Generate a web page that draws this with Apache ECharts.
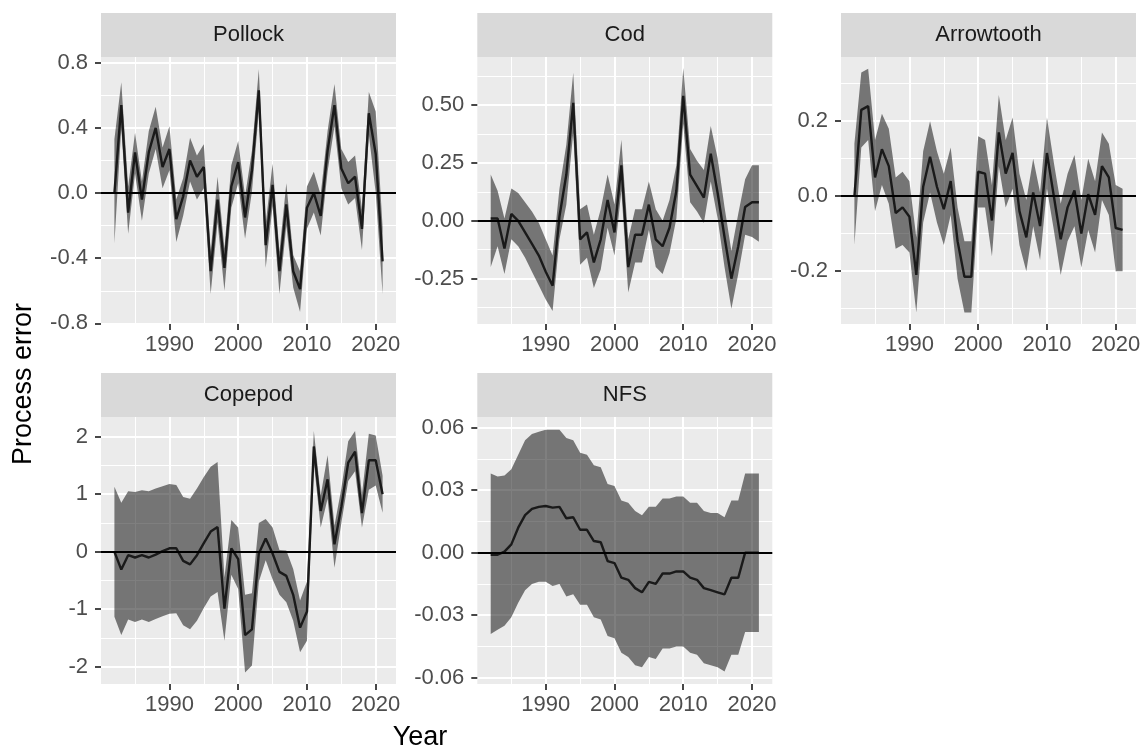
<!DOCTYPE html>
<html>
<head>
<meta charset="utf-8">
<script src="https://cdn.jsdelivr.net/npm/echarts@6/dist/echarts.min.js"></script>
<style>
  html, body { margin: 0; padding: 0; background: #ffffff; }
  #chart { width: 1145px; height: 751px; }
</style>
</head>
<body>
<div id="chart"></div>
<script>
// ---- data ---------------------------------------------------------------
const years = [1982, 1983, 1984, 1985, 1986, 1987, 1988, 1989, 1990, 1991,
               1992, 1993, 1994, 1995, 1996, 1997, 1998, 1999, 2000, 2001,
               2002, 2003, 2004, 2005, 2006, 2007, 2008, 2009, 2010, 2011,
               2012, 2013, 2014, 2015, 2016, 2017, 2018, 2019, 2020, 2021];

const panelNames = ['Pollock', 'Cod', 'Arrowtooth', 'Copepod', 'NFS'];

const pollockEst = [0.00, 0.54, -0.12, 0.25, -0.04, 0.25, 0.40, 0.16, 0.27, -0.16,
                    -0.02, 0.20, 0.10, 0.16, -0.48, -0.04, -0.46, 0.04, 0.19, -0.15,
                    0.14, 0.63, -0.32, 0.05, -0.48, -0.07, -0.48, -0.59, -0.09, 0.00,
                    -0.14, 0.26, 0.54, 0.15, 0.06, 0.10, -0.22, 0.49, 0.24, -0.42];
const pollockHi  = [0.33, 0.68, 0.04, 0.37, 0.07, 0.38, 0.53, 0.28, 0.41, -0.04,
                    0.09, 0.34, 0.23, 0.30, -0.36, 0.10, -0.34, 0.17, 0.32, -0.02,
                    0.26, 0.76, -0.19, 0.18, -0.36, 0.06, -0.38, -0.48, 0.04, 0.13,
                    -0.01, 0.38, 0.67, 0.27, 0.19, 0.23, -0.10, 0.62, 0.50, -0.21];
const pollockLo  = [-0.31, 0.40, -0.25, 0.12, -0.17, 0.12, 0.27, 0.03, 0.14, -0.30,
                    -0.14, 0.07, -0.04, 0.03, -0.62, -0.18, -0.60, -0.09, 0.06, -0.28,
                    0.01, 0.50, -0.46, -0.08, -0.62, -0.20, -0.58, -0.73, -0.22, -0.12,
                    -0.26, 0.13, 0.41, 0.03, -0.07, -0.03, -0.35, 0.36, 0.00, -0.62];

const codEst = [0.01, 0.01, -0.12, 0.03, 0.00, -0.05, -0.10, -0.15, -0.22, -0.28,
                0.02, 0.20, 0.51, -0.08, -0.05, -0.18, -0.08, 0.09, -0.05, 0.24,
                -0.20, -0.06, -0.06, 0.07, -0.08, -0.11, -0.03, 0.13, 0.54, 0.20,
                0.15, 0.10, 0.29, 0.12, -0.07, -0.25, -0.11, 0.06, 0.08, 0.08];
const codHi  = [0.20, 0.13, 0.01, 0.14, 0.12, 0.08, 0.04, -0.01, -0.08, -0.15,
                0.14, 0.33, 0.64, 0.05, 0.07, -0.06, 0.05, 0.20, 0.07, 0.35,
                -0.08, 0.05, 0.05, 0.17, 0.05, 0.00, 0.09, 0.24, 0.66, 0.31,
                0.26, 0.22, 0.41, 0.27, 0.06, -0.13, 0.03, 0.18, 0.24, 0.24];
const codLo  = [-0.20, -0.11, -0.23, -0.08, -0.11, -0.16, -0.22, -0.28, -0.34, -0.39,
                -0.08, 0.07, 0.38, -0.19, -0.16, -0.29, -0.21, -0.03, -0.15, 0.13,
                -0.31, -0.18, -0.18, -0.04, -0.20, -0.23, -0.14, 0.01, 0.42, 0.08,
                0.04, -0.01, 0.17, 0.01, -0.20, -0.38, -0.23, -0.06, -0.07, -0.09];

const arrowEst = [0.00, 0.23, 0.24, 0.05, 0.125, 0.08, -0.045, -0.03, -0.055, -0.21,
                  0.025, 0.105, 0.025, -0.035, 0.04, -0.12, -0.215, -0.215, 0.065, 0.06,
                  -0.065, 0.17, 0.06, 0.115, -0.04, -0.11, 0.01, -0.08, 0.115, 0.00,
                  -0.115, -0.03, 0.015, -0.10, 0.005, -0.05, 0.08, 0.05, -0.085, -0.09];
const arrowHi  = [0.14, 0.33, 0.34, 0.15, 0.22, 0.18, 0.05, 0.065, 0.04, -0.11,
                  0.12, 0.20, 0.12, 0.06, 0.13, -0.03, -0.12, -0.12, 0.16, 0.15,
                  0.03, 0.27, 0.15, 0.21, 0.06, -0.01, 0.10, 0.01, 0.21, 0.09,
                  -0.02, 0.06, 0.11, -0.01, 0.10, 0.04, 0.17, 0.14, 0.03, 0.02];
const arrowLo  = [-0.13, 0.13, 0.15, -0.04, 0.03, -0.02, -0.14, -0.13, -0.15, -0.31,
                  -0.07, 0.01, -0.07, -0.13, -0.05, -0.22, -0.31, -0.31, -0.03, -0.03,
                  -0.16, 0.08, -0.03, 0.02, -0.13, -0.20, -0.08, -0.17, 0.02, -0.09,
                  -0.21, -0.12, -0.08, -0.19, -0.09, -0.15, -0.01, -0.05, -0.20, -0.20];

const copepodEst = [0.00, -0.31, -0.06, -0.10, -0.06, -0.10, -0.05, 0.01, 0.06, 0.06,
                    -0.16, -0.22, -0.06, 0.15, 0.35, 0.43, -0.99, 0.06, -0.13, -1.45,
                    -1.35, -0.03, 0.23, -0.03, -0.35, -0.42, -0.75, -1.32, -1.04, 1.83,
                    0.71, 1.26, 0.13, 0.78, 1.55, 1.74, 0.67, 1.59, 1.59, 1.00];
const copepodHi  = [1.13, 0.85, 1.05, 1.04, 1.07, 1.05, 1.10, 1.14, 1.18, 1.16,
                    0.95, 0.92, 1.10, 1.30, 1.48, 1.56, -0.45, 0.55, 0.42, -0.75,
                    -0.72, 0.50, 0.57, 0.42, 0.03, 0.02, -0.30, -0.85, -0.52, 2.10,
                    0.98, 1.68, 0.45, 1.10, 1.92, 2.10, 1.00, 2.05, 2.02, 1.32];
const copepodLo  = [-1.13, -1.45, -1.18, -1.22, -1.18, -1.22, -1.17, -1.12, -1.08, -1.07,
                    -1.28, -1.35, -1.20, -0.98, -0.78, -0.70, -1.55, -0.40, -0.65, -2.10,
                    -1.98, -0.52, -0.15, -0.48, -0.75, -0.88, -1.20, -1.75, -1.55, 1.55,
                    0.42, 0.92, -0.28, 0.50, 1.23, 1.40, 0.42, 1.08, 1.15, 0.68];

const nfsEst = [-0.001, -0.001, 0.0005, 0.004, 0.012, 0.018, 0.021, 0.022, 0.0224, 0.0216,
                0.022, 0.0165, 0.017, 0.011, 0.011, 0.0056, 0.005, -0.004, -0.005, -0.012,
                -0.013, -0.017, -0.019, -0.014, -0.015, -0.010, -0.010, -0.009, -0.009, -0.012,
                -0.013, -0.017, -0.018, -0.019, -0.020, -0.012, -0.012, 0.000, 0.000, 0.000];
const nfsHi  = [0.038, 0.0365, 0.037, 0.040, 0.047, 0.054, 0.057, 0.058, 0.059, 0.059,
                0.059, 0.055, 0.054, 0.048, 0.047, 0.042, 0.041, 0.033, 0.032, 0.025,
                0.024, 0.020, 0.018, 0.022, 0.022, 0.026, 0.026, 0.027, 0.027, 0.024,
                0.024, 0.020, 0.019, 0.019, 0.017, 0.025, 0.025, 0.038, 0.038, 0.038];
const nfsLo  = [-0.039, -0.037, -0.035, -0.031, -0.024, -0.018, -0.015, -0.014, -0.014, -0.016,
                -0.015, -0.021, -0.020, -0.025, -0.025, -0.031, -0.032, -0.040, -0.041, -0.048,
                -0.050, -0.054, -0.055, -0.050, -0.051, -0.046, -0.046, -0.045, -0.045, -0.048,
                -0.049, -0.053, -0.054, -0.055, -0.057, -0.049, -0.049, -0.038, -0.038, -0.038];

// tick positions and labels
const xTicks = [1990, 2000, 2010, 2020];
const xMinorTicks = [1985, 1995, 2005, 2015];

const pollockTicks = [-0.8, -0.4, 0, 0.4, 0.8];
const pollockTickLabels = ['-0.8', '-0.4', '0.0', '0.4', '0.8'];
const pollockMinor = [-0.6, -0.2, 0.2, 0.6];

const codTicks = [-0.25, 0, 0.25, 0.5];
const codTickLabels = ['-0.25', '0.00', '0.25', '0.50'];
const codMinor = [-0.375, -0.125, 0.125, 0.375, 0.625];

const arrowTicks = [-0.2, 0, 0.2];
const arrowTickLabels = ['-0.2', '0.0', '0.2'];
const arrowMinor = [-0.3, -0.1, 0.1, 0.3];

const copepodTicks = [-2, -1, 0, 1, 2];
const copepodTickLabels = ['-2', '-1', '0', '1', '2'];
const copepodMinor = [-1.5, -0.5, 0.5, 1.5];

const nfsTicks = [-0.06, -0.03, 0, 0.03, 0.06];
const nfsTickLabels = ['-0.06', '-0.03', '0.00', '0.03', '0.06'];
const nfsMinor = [-0.045, -0.015, 0.015, 0.045];

// ---- layout -------------------------------------------------------------
const FONT = '"Liberation Sans", Arial, Helvetica, sans-serif';
const TICK_FONT = 22;
const panelW = 295, panelH = 267, stripH = 44;
const colLeft = [101, 477.3, 841];
const rowTop = [57, 417];

const panels = [
  { name: panelNames[0], col: 0, row: 0, est: pollockEst, lo: pollockLo, hi: pollockHi,
    yMin: -0.804, yMax: 0.835, ticks: pollockTicks, labels: pollockTickLabels, minor: pollockMinor },
  { name: panelNames[1], col: 1, row: 0, est: codEst, lo: codLo, hi: codHi,
    yMin: -0.446, yMax: 0.708, ticks: codTicks, labels: codTickLabels, minor: codMinor },
  { name: panelNames[2], col: 2, row: 0, est: arrowEst, lo: arrowLo, hi: arrowHi,
    yMin: -0.341, yMax: 0.371, ticks: arrowTicks, labels: arrowTickLabels, minor: arrowMinor },
  { name: panelNames[3], col: 0, row: 1, est: copepodEst, lo: copepodLo, hi: copepodHi,
    yMin: -2.30, yMax: 2.343, ticks: copepodTicks, labels: copepodTickLabels, minor: copepodMinor },
  { name: panelNames[4], col: 1, row: 1, est: nfsEst, lo: nfsLo, hi: nfsHi,
    yMin: -0.0630, yMax: 0.0651, ticks: nfsTicks, labels: nfsTickLabels, minor: nfsMinor }
];

const grids = [], xAxes = [], yAxes = [], series = [], graphics = [];

panels.forEach((p, i) => {
  const left = colLeft[p.col], top = rowTop[p.row];
  grids.push({
    left: left, top: top, width: panelW, height: panelH,
    show: true, backgroundColor: '#EBEBEB', borderWidth: 0, z: 0
  });

  // main x axis (major grid lines, ticks and labels)
  xAxes.push({
    type: 'value', gridIndex: i, min: 1980.05, max: 2022.95, z: 2, position: 'bottom',
    axisLine: { show: false, onZero: false },
    axisTick: { show: true, length: 6, customValues: xTicks,
                lineStyle: { color: '#333333', width: 1.8 } },
    axisLabel: { customValues: xTicks, color: '#4D4D4D', fontSize: TICK_FONT, fontFamily: FONT,
                 margin: 10, formatter: v => String(v) },
    splitLine: { show: true, lineStyle: { color: '#FFFFFF', width: 2 } }
  });
  // minor x grid lines
  xAxes.push({
    type: 'value', gridIndex: i, min: 1980.05, max: 2022.95, z: 1, position: 'bottom',
    axisLine: { show: false, onZero: false },
    axisTick: { show: false, customValues: xMinorTicks },
    axisLabel: { show: false, customValues: xMinorTicks },
    splitLine: { show: true, lineStyle: { color: '#FFFFFF', width: 1 } }
  });

  const tickVals = p.ticks, tickLabs = p.labels;
  yAxes.push({
    type: 'value', gridIndex: i, min: p.yMin, max: p.yMax, z: 2, position: 'left',
    axisLine: { show: false, onZero: false },
    axisTick: { show: true, length: 6, customValues: tickVals,
                lineStyle: { color: '#333333', width: 1.8 } },
    axisLabel: {
      customValues: tickVals, color: '#4D4D4D', fontSize: TICK_FONT, fontFamily: FONT, margin: 13,
      formatter: v => {
        const k = tickVals.findIndex(t => Math.abs(t - v) < 1e-9);
        return k >= 0 ? tickLabs[k] : '';
      }
    },
    splitLine: { show: true, lineStyle: { color: '#FFFFFF', width: 2 } }
  });
  yAxes.push({
    type: 'value', gridIndex: i, min: p.yMin, max: p.yMax, z: 1, position: 'left',
    axisLine: { show: false, onZero: false },
    axisTick: { show: false, customValues: p.minor },
    axisLabel: { show: false, customValues: p.minor },
    splitLine: { show: true, lineStyle: { color: '#FFFFFF', width: 1 } }
  });

  const lo = p.lo, hi = p.hi;
  // confidence ribbon drawn as one polygon through the axis scales
  series.push({
    type: 'custom', name: p.name + ' band', xAxisIndex: 2 * i, yAxisIndex: 2 * i,
    z: 3, silent: true, clip: true,
    data: years.map((y, k) => [y, lo[k], hi[k]]),
    encode: { x: 0, y: [1, 2] },
    renderItem: (params, api) => {
      if (params.dataIndex !== 0) return null;
      const pts = [];
      for (let k = 0; k < years.length; k++) pts.push(api.coord([years[k], hi[k]]));
      for (let k = years.length - 1; k >= 0; k--) pts.push(api.coord([years[k], lo[k]]));
      return { type: 'polygon', shape: { points: pts },
               style: { fill: 'rgba(0,0,0,0.5)', stroke: null } };
    }
  });
  // estimate line with the zero reference line
  series.push({
    type: 'line', name: p.name, xAxisIndex: 2 * i, yAxisIndex: 2 * i, z: 4,
    data: years.map((y, k) => [y, p.est[k]]),
    showSymbol: false, silent: true,
    lineStyle: { color: '#1A1A1A', width: 2.4 },
    markLine: {
      silent: true, symbol: 'none', z: 5, animation: false,
      label: { show: false },
      lineStyle: { color: '#000000', width: 2.2, type: 'solid' },
      data: [{ yAxis: 0 }]
    }
  });

  // facet strip
  graphics.push({
    type: 'rect', left: left, top: top - stripH,
    shape: { width: panelW, height: stripH },
    style: { fill: '#D9D9D9' }, silent: true
  });
  graphics.push({
    type: 'text', x: left + panelW / 2, y: top - stripH / 2,
    style: { text: p.name, fill: '#1A1A1A', font: TICK_FONT + 'px ' + FONT,
             textAlign: 'center', textVerticalAlign: 'middle' },
    silent: true
  });
});

// axis titles
graphics.push({
  type: 'text', x: 420, y: 738,
  style: { text: 'Year', fill: '#000000', font: '27px ' + FONT,
           textAlign: 'center', textVerticalAlign: 'middle' },
  silent: true
});
graphics.push({
  type: 'text', x: 24, y: 384, rotation: Math.PI / 2,
  style: { text: 'Process error', fill: '#000000', font: '27px ' + FONT,
           textAlign: 'center', textVerticalAlign: 'middle' },
  silent: true
});

const chart = echarts.init(document.getElementById('chart'), null, { renderer: 'canvas' });
chart.setOption({
  animation: false,
  backgroundColor: '#FFFFFF',
  grid: grids,
  xAxis: xAxes,
  yAxis: yAxes,
  series: series,
  graphic: { elements: graphics }
});
</script>
</body>
</html>
